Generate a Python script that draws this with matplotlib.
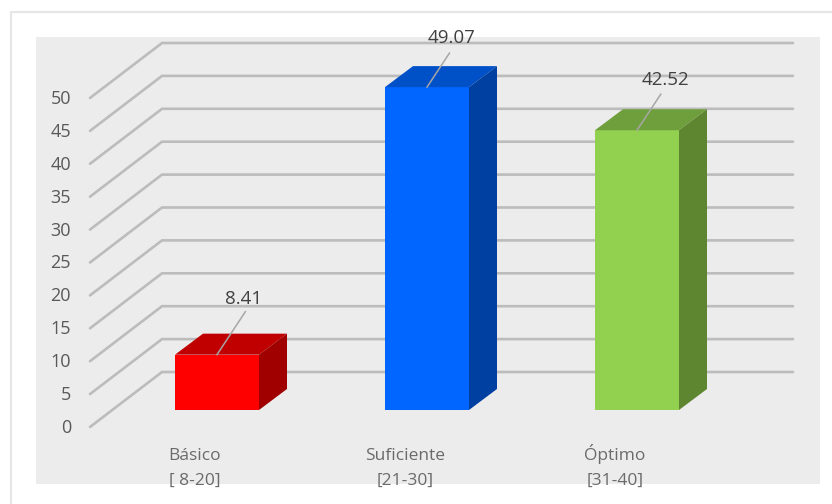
# -*- coding: UTF-8 -*-
import matplotlib
matplotlib.use('Agg')
import matplotlib.pyplot as plt
from matplotlib.patches import Polygon, Rectangle

categories = ['Básico', 'Suficiente', 'Óptimo']
ranges = ['[ 8-20]', '[21-30]', '[31-40]']
values = [8.41, 49.07, 42.52]
labels = ['8.41', '49.07', '42.52']
y_ticks = [0, 5, 10, 15, 20, 25, 30, 35, 40, 45, 50]
front_colors = ['#ff0000', '#0066ff', '#92d050']
top_colors = ['#c00000', '#0050c8', '#6f9f3c']
side_colors = ['#a00000', '#0040a0', '#5e8530']
leader_px = [43, 34, 36]  # leader height above the bar, pixels
label_px = [56, 49, 50]   # label centre above the bar, pixels
label_dx = [27, 25, 28]   # label centre right of the bar centre, pixels

plt.rcParams['font.family'] = ['Open Sans', 'DejaVu Sans']

# one axes over the whole figure, x in category units, y in value units
W, H = 832, 504
px_x = 210.0   # pixels per category
px_y = 6.58    # pixels per value unit
x0 = 217.0     # pixel of first bar centre
y0 = 410.0     # pixel of value 0 on bar front

fig = plt.figure(figsize=(W / 100, H / 100), dpi=100)
ax = fig.add_axes([0, 0, 1, 1])
ax.set_xlim(-x0 / px_x, (W - x0) / px_x)
ax.set_ylim((y0 - H) / px_y, y0 / px_y)
ax.axis('off')

# helpers for sizes given in pixels
def dx(p):
    return p / px_x

def dy(p):
    return p / px_y

def xp(p):
    return (p - x0) / px_x

def yp(p):
    return (y0 - p) / px_y

# frame (only top and left show) and grey panel
ax.plot([xp(10.5), xp(10.5), xp(832)], [yp(504), yp(11.5), yp(11.5)], color='#e6e6e6', lw=1.6, zorder=0)
ax.add_patch(Rectangle((xp(36), yp(484)), dx(784), dy(447), fc='#ececec', ec='none', zorder=1))

# gridlines: floor/wall offsets
front_x, back_x, right_x = xp(90), xp(162), xp(793)
front_off, back_off = yp(427), yp(372)
for v in y_ticks:
    ax.plot([front_x, back_x, right_x], [v + front_off, v + back_off, v + back_off],
            color='#bcbcbc', lw=1.9, solid_joinstyle='miter', solid_capstyle='round', zorder=2)
    ax.text(xp(71), v + front_off - dy(1), str(v), ha='right', va='center',
            fontsize=13, color='#595959', zorder=5)

# 3d bars
bar_w = 84 / px_x
depth_x, depth_y = dx(28), dy(21)
for i, v in enumerate(values):
    l, r = i - bar_w / 2, i + bar_w / 2
    ax.add_patch(Rectangle((l, 0), bar_w, v, fc=front_colors[i], ec='none', zorder=3))
    ax.add_patch(Polygon([(l, v), (r, v), (r + depth_x, v + depth_y), (l + depth_x, v + depth_y)],
                         fc=top_colors[i], ec='none', zorder=3))
    ax.add_patch(Polygon([(r, 0), (r + depth_x, depth_y), (r + depth_x, v + depth_y), (r, v)],
                         fc=side_colors[i], ec='none', zorder=3))
    # leader line and label
    ax.plot([i, i + dx(leader_px[i] * 0.66)], [v, v + dy(leader_px[i])], color='#a6a6a6', lw=1.1, zorder=4)
    ax.text(i + dx(label_dx[i]), v + dy(label_px[i]), labels[i], ha='center', va='center',
            fontsize=13.5, color='#404040', zorder=5)
    ax.text(i - dx(22), yp(460.5), categories[i], ha='center', va='baseline',
            fontsize=12.5, color='#6a6a6a', zorder=5)
    ax.text(i - dx(22), yp(485), ranges[i], ha='center', va='baseline',
            fontsize=12.5, color='#6a6a6a', zorder=5)

fig.savefig('out.png', dpi=100)
